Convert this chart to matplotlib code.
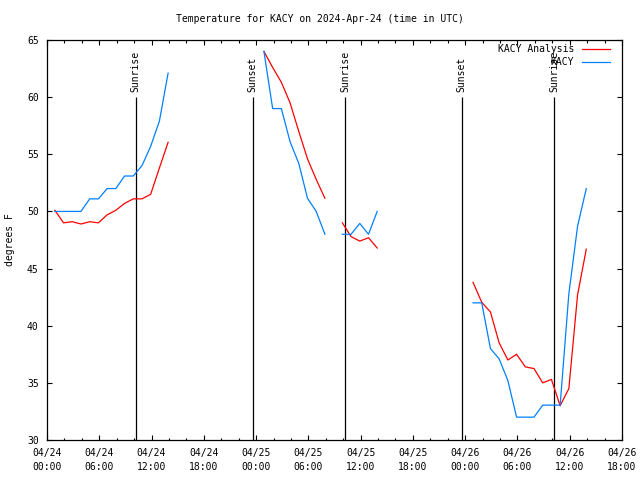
import numpy as np
import matplotlib
matplotlib.use("Agg")
import matplotlib.pyplot as plt
from matplotlib.ticker import MultipleLocator

plt.rcParams['font.family'] = ['DejaVu Sans Mono']

nan = np.nan
# observation times: hours after 2024-04-24 00:00 UTC (hh:54 observations)
hours = np.arange(62) + 0.9

analysis = [50.1, 49.0, 49.1, 48.9, 49.1, 49.0, 49.7, 50.1, 50.7, 51.1, 51.1, 51.5, 53.8, 56.05,
            nan, nan, nan, nan, nan, nan, nan, nan, nan, nan,
            64.0, 62.6, 61.3, 59.5, 57.0, 54.6, 52.8, 51.15,
            nan,
            49.0, 47.8, 47.4, 47.7, 46.8,
            nan, nan, nan, nan, nan, nan, nan, nan, nan, nan,
            43.8, 42.05, 41.2, 38.5, 37.0, 37.5, 36.4, 36.25, 35.0, 35.3, 33.0, 34.5, 42.7, 46.7]

observed = [50.0, 50.0, 50.0, 50.0, 51.1, 51.1, 52.0, 52.0, 53.1, 53.1, 54.0, 55.7, 57.9, 62.1,
            nan, nan, nan, nan, nan, nan, nan, nan, nan, nan,
            64.0, 59.0, 59.0, 56.1, 54.2, 51.15, 50.0, 48.0,
            nan,
            48.0, 48.0, 48.95, 48.0, 50.0,
            nan, nan, nan, nan, nan, nan, nan, nan, nan, nan,
            42.0, 42.0, 38.0, 37.1, 35.2, 32.0, 32.0, 32.0, 33.05, 33.05, 33.05, 42.8, 48.7, 52.0]

events = ["Sunrise", "Sunset", "Sunrise", "Sunset", "Sunrise"]
event_hours = [10.2, 23.6, 34.2, 47.6, 58.2]

tick_hours = [0, 6, 12, 18, 24, 30, 36, 42, 48, 54, 60, 66]
tick_labels = ["04/24\n00:00", "04/24\n06:00", "04/24\n12:00", "04/24\n18:00",
               "04/25\n00:00", "04/25\n06:00", "04/25\n12:00", "04/25\n18:00",
               "04/26\n00:00", "04/26\n06:00", "04/26\n12:00", "04/26\n18:00"]

fig = plt.figure(figsize=(6.4, 4.8), dpi=100)
ax = fig.add_axes([47/640, 1 - 440/480, 575/640, 400/480])

for h, name in zip(event_hours, events):
    ax.vlines(h, 30, 60, color='black', lw=0.9)
    ax.text(h, 60.45, name, rotation=90, ha='center', va='bottom', fontsize=7)

ax.plot(hours, analysis, color='#ff0000', lw=0.9, label='KACY Analysis')
ax.plot(hours, observed, color='#0080ff', lw=0.9, label='KACY')

ax.set_xlim(0, 66)
ax.set_ylim(30, 65)
ax.set_xticks(tick_hours)
ax.set_xticklabels(tick_labels, fontsize=7, linespacing=1.5)
ax.xaxis.set_minor_locator(MultipleLocator(2))
ax.set_yticks(np.arange(30, 66, 5))
ax.tick_params(axis='both', which='major', direction='in', length=3.5, width=0.8,
               top=True, right=True, labelsize=7, pad=6)
ax.tick_params(axis='x', which='minor', direction='in', length=1.8, width=0.8, top=True)
for s in ax.spines.values():
    s.set_linewidth(0.9)

fig.text(10/640, 1 - 240/480, 'degrees F', rotation=90, ha='center', va='center', fontsize=7)
fig.text(0.5, 1 - 19/480, 'Temperature for KACY on 2024-Apr-24 (time in UTC)',
         ha='center', va='center', fontsize=7)

ax.legend(loc='upper right', markerfirst=False, frameon=False, fontsize=7,
          handlelength=2.9, handletextpad=0.8, labelspacing=0.3,
          bbox_to_anchor=(1 - 12/575, 1 - 4/400), borderaxespad=0.0, borderpad=0.0)

fig.savefig('out.png', dpi=100)
